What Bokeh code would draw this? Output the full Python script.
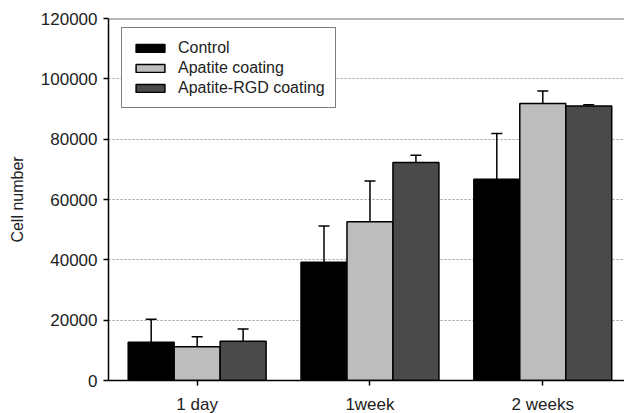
from bokeh.plotting import figure
from bokeh.models import (ColumnDataSource, Range1d, FixedTicker, Whisker, TeeHead,
                          Legend, LegendItem, Span, BasicTickFormatter)
from bokeh.embed import file_html
from bokeh.resources import INLINE

# ---- data ----
categories = ["1 day", "1week", "2 weeks"]
series_names = ["Control", "Apatite coating", "Apatite-RGD coating"]
control_mean = [12700, 39200, 66700]
control_err = [7600, 12000, 15200]
apatite_mean = [11200, 52600, 91800]
apatite_err = [3300, 13500, 4200]
rgd_mean = [13000, 72300, 91000]
rgd_err = [4100, 2400, 400]
y_ticks = [0, 20000, 40000, 60000, 80000, 100000, 120000]
grid_ticks = [20000, 40000, 60000, 80000, 100000]

colors = ["#000000", "#bdbdbd", "#4a4a4a"]
offsets = [-0.266, 0.0, 0.266]
bar_w = 0.266
FONT = "Liberation Sans"

p = figure(frame_width=516, frame_height=362, output_backend="svg", toolbar_location=None,
           x_range=Range1d(-0.513, 2.4729), y_range=Range1d(0, 120000),
           min_border_left=108, min_border_top=18, min_border_bottom=33, min_border_right=0)
p.outline_line_color = None
p.background_fill_color = "white"
p.border_fill_color = "white"
p.xgrid.grid_line_color = None
p.ygrid.ticker = FixedTicker(ticks=grid_ticks)
p.ygrid.grid_line_color = "#9a9a9a"
p.ygrid.grid_line_dash = "2 2"
p.ygrid.grid_line_width = 1

# top frame line
p.add_layout(Span(location=y_ticks[-1], dimension="width", line_color="#707070", line_width=2))

renderers = []
for i, (means, errs) in enumerate([(control_mean, control_err),
                                   (apatite_mean, apatite_err),
                                   (rgd_mean, rgd_err)]):
    xs = [k + offsets[i] for k in range(len(categories))]
    src = ColumnDataSource(dict(x=xs, top=means,
                                upper=[m + e for m, e in zip(means, errs)]))
    r = p.vbar(x="x", top="top", bottom=0, width=bar_w, source=src,
               fill_color=colors[i], line_color="black", line_width=1.5)
    renderers.append(r)
    w = Whisker(base="x", lower="top", upper="upper", source=src, dimension="height",
                line_color="black", line_width=1.5,
                upper_head=TeeHead(size=11, line_color="black", line_width=1.5),
                lower_head=None)
    p.add_layout(w)

# axes
p.xaxis.ticker = FixedTicker(ticks=list(range(len(categories))))
p.xaxis.major_label_overrides = {i: c for i, c in enumerate(categories)}
p.yaxis.ticker = FixedTicker(ticks=y_ticks)
p.yaxis.formatter = BasicTickFormatter(use_scientific=False)
for ax in (p.xaxis[0], p.yaxis[0]):
    ax.axis_line_color = "black"
    ax.axis_line_width = 1.5
    ax.major_tick_line_color = "black"
    ax.major_tick_line_width = 1.5
    ax.major_tick_out = 5
    ax.major_tick_in = 0
    ax.minor_tick_line_color = None
    ax.major_label_text_font = FONT
    ax.major_label_text_font_size = "17px"
    ax.major_label_text_color = "#222222"
p.xaxis.major_label_standoff = 9
p.yaxis.major_label_standoff = 6
p.yaxis.axis_label = "Cell number"
p.yaxis.axis_label_text_font = FONT
p.yaxis.axis_label_text_font_size = "16px"
p.yaxis.axis_label_text_font_style = "normal"
p.yaxis.axis_label_text_color = "#222222"
p.yaxis.axis_label_standoff = 12

legend = Legend(items=[LegendItem(label=n, renderers=[r]) for n, r in zip(series_names, renderers)],
                location=(13, 272), padding=10, spacing=1, margin=0,
                glyph_width=36, glyph_height=10, label_height=19, label_standoff=10,
                label_text_font=FONT, label_text_font_size="16px", label_text_color="#222222",
                border_line_color="black", border_line_width=1.5,
                background_fill_color="white", background_fill_alpha=1.0)
p.add_layout(legend)

open("out.html", "w").write(file_html(p, INLINE))
